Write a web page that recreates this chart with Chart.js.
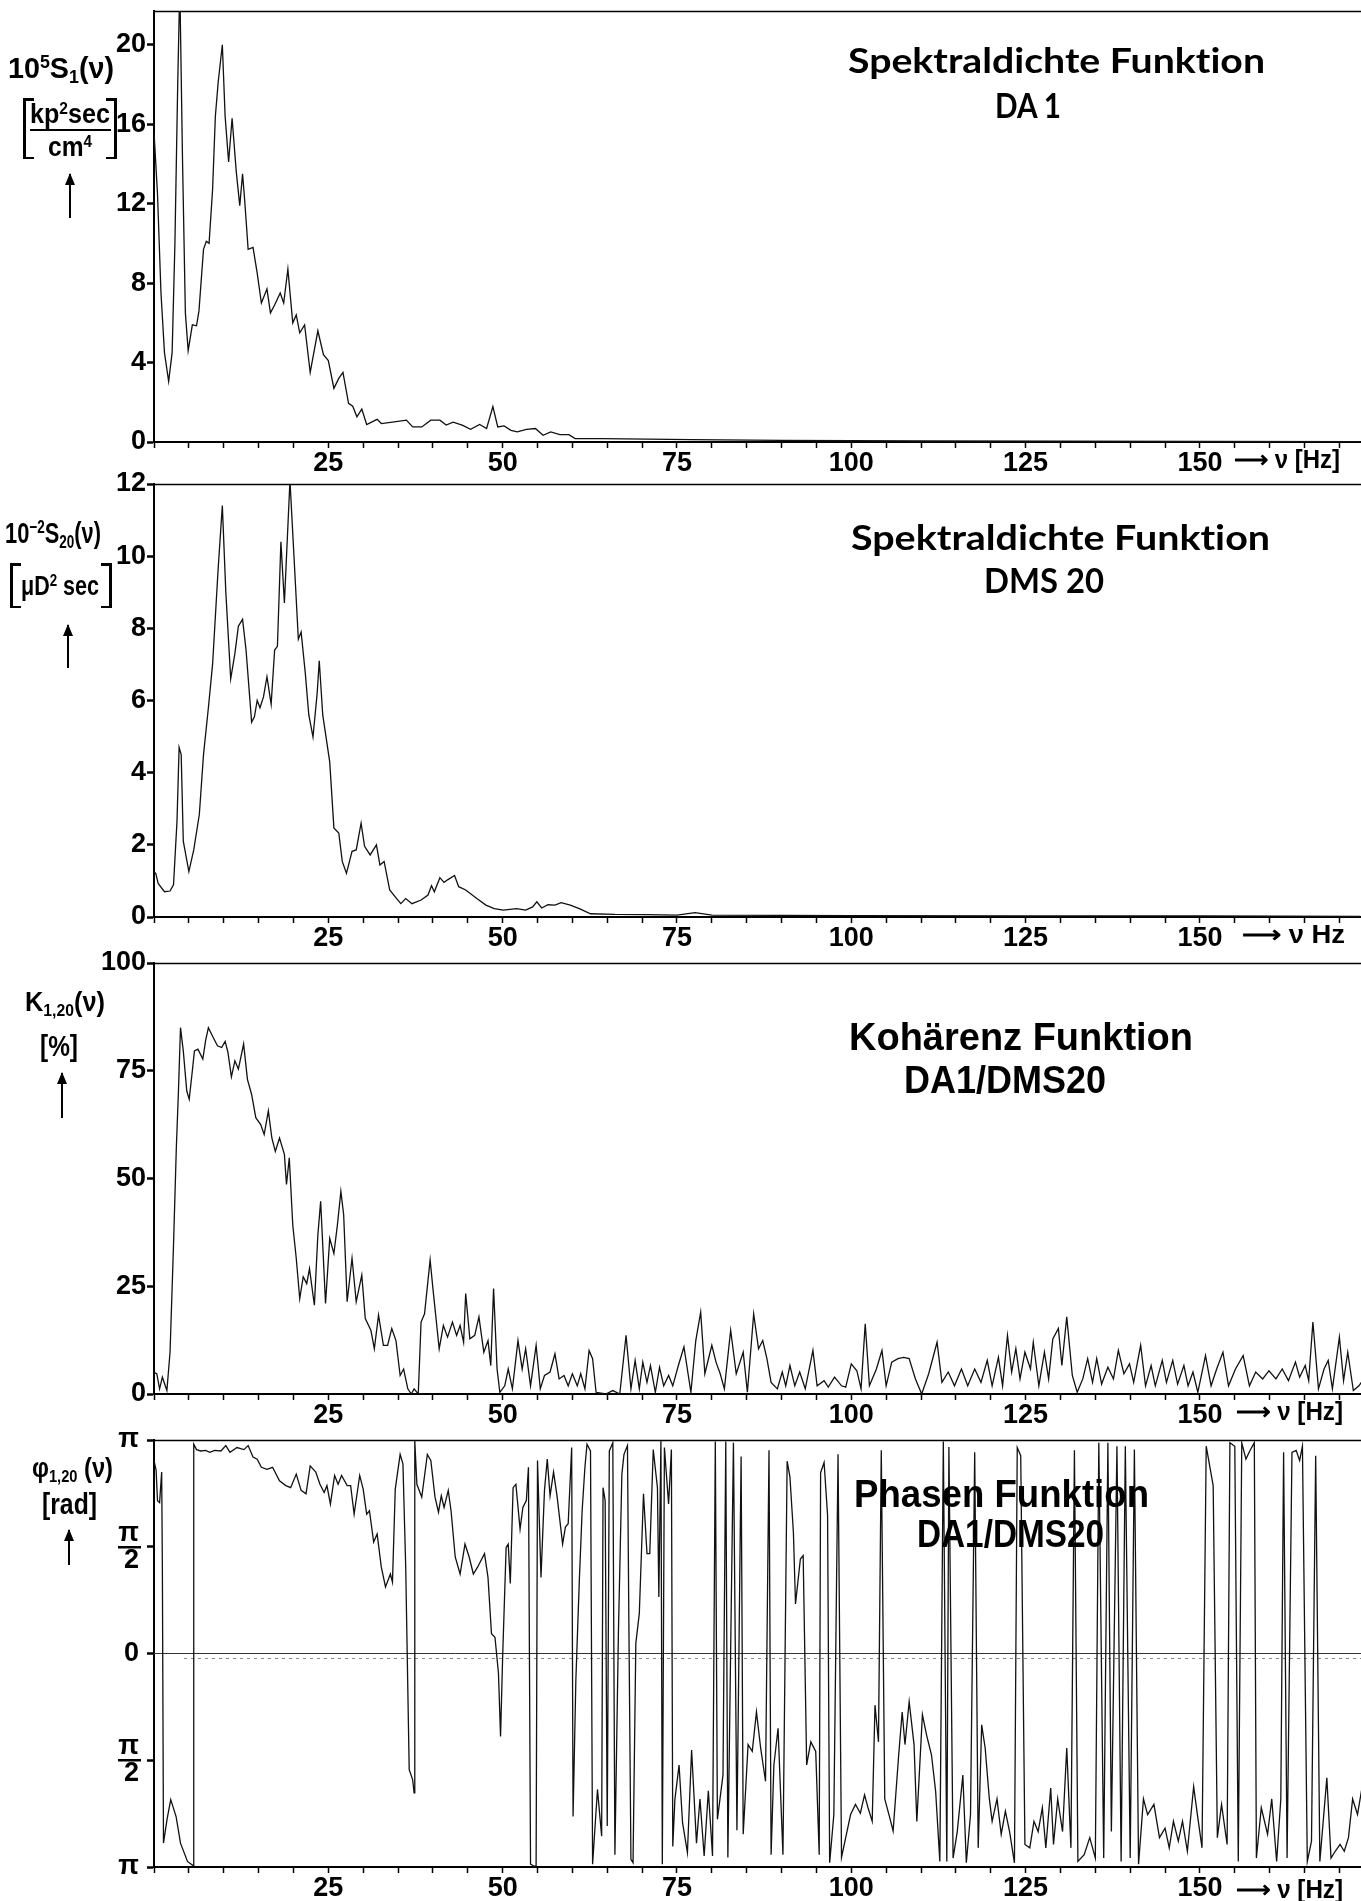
<!DOCTYPE html>
<html><head><meta charset="utf-8">
<script src="https://cdn.jsdelivr.net/npm/chart.js@4.4.0/dist/chart.umd.min.js"></script>
<style>
html,body{margin:0;padding:0;background:#fff;}
body{width:1361px;height:1901px;overflow:hidden;position:relative;}
canvas.pc{position:absolute;left:0;}
.t{position:absolute;white-space:nowrap;color:#000;transform-origin:0 0;line-height:1;font-variant-ligatures:none;font-feature-settings:"liga" 0,"clig" 0;}
.ti{font-family:Lato,"Open Sans",sans-serif;font-weight:700;font-size:35px;}
.tn{font-family:"Liberation Sans Narrow","Liberation Sans",sans-serif;font-weight:700;}
.t sup,.t sub{font-size:0.62em;position:relative;vertical-align:baseline;}
.t sup{top:-0.55em;}
.t sub{top:0.3em;}
.arr{position:absolute;width:2px;background:#000;}
.arr::before{content:'';position:absolute;left:-4px;top:-1px;width:0;height:0;border-left:5px solid transparent;border-right:5px solid transparent;border-bottom:12px solid #000;}
.brk{position:absolute;border-left:3px solid #000;border-right:3px solid #000;box-sizing:border-box;}
.brk::before,.brk::after{content:'';position:absolute;left:0;right:0;height:2.5px;background:linear-gradient(to right,#000 0,#000 8px,transparent 8px,transparent calc(100% - 8px),#000 calc(100% - 8px));}
.brk::before{top:0}.brk::after{bottom:0}
.bar{position:absolute;height:2px;background:#000;}
</style></head><body>
<canvas id="c1" class="pc"></canvas>
<canvas id="c2" class="pc"></canvas>
<canvas id="c3" class="pc"></canvas>
<canvas id="c4" class="pc"></canvas>

<!-- titles -->
<div class="t ti" data-w="417" style="left:848px;top:42px">Spektraldichte Funktion</div>
<div class="t ti" data-w="66" style="left:995px;top:87px">DA 1</div>
<div class="t ti" data-w="419" style="left:851px;top:519px">Spektraldichte Funktion</div>
<div class="t ti" data-w="120" style="left:984px;top:562px">DMS 20</div>
<div class="t tn" data-w="344" style="left:849px;top:1017px;font-size:39px">Kohärenz Funktion</div>
<div class="t tn" data-w="202" style="left:904px;top:1060px;font-size:39px">DA1/DMS20</div>
<div class="t tn" data-w="295" style="left:854px;top:1474px;font-size:39px">Phasen Funktion</div>
<div class="t tn" data-w="187" style="left:917px;top:1514px;font-size:39px">DA1/DMS20</div>

<!-- y-axis labels panel 1 -->
<div class="t tn" data-w="106" style="left:8px;top:54px;font-size:29px">10<sup>5</sup>S<sub>1</sub>(ν)</div>
<div class="brk" style="left:23px;top:98px;width:94px;height:61px"></div>
<div class="t tn" data-w="80" style="left:30px;top:101px;font-size:27px">kp<sup>2</sup>sec</div>
<div class="bar" style="left:30px;top:129px;width:81px"></div>
<div class="t tn" data-w="44" style="left:48px;top:134px;font-size:27px">cm<sup>4</sup></div>
<div class="arr" style="left:69px;top:174px;height:44px"></div>

<!-- panel 2 -->
<div class="t tn" data-w="96" style="left:5px;top:519px;font-size:29px">10<sup>−2</sup>S<sub>20</sub>(ν)</div>
<div class="brk" style="left:10px;top:563px;width:102px;height:45px"></div>
<div class="t tn" data-w="78" style="left:21px;top:573px;font-size:27px">μD<sup>2</sup> sec</div>
<div class="arr" style="left:67px;top:625px;height:43px"></div>

<!-- panel 3 -->
<div class="t tn" data-w="80" style="left:25px;top:988px;font-size:28px">K<sub>1,20</sub>(ν)</div>
<div class="t tn" data-w="38" style="left:40px;top:1031px;font-size:30px">[%]</div>
<div class="arr" style="left:61px;top:1073px;height:45px"></div>

<!-- panel 4 -->
<div class="t tn" data-w="81" style="left:32px;top:1454px;font-size:28px">φ<sub>1,20</sub> (ν)</div>
<div class="t tn" data-w="55" style="left:42px;top:1490px;font-size:29px">[rad]</div>
<div class="arr" style="left:68px;top:1530px;height:35px"></div>

<!-- x unit labels -->
<div class="t tn" data-w="106" style="left:1234px;top:446px;font-size:26px">⟶ ν [Hz]</div>
<div class="t tn" data-w="103" style="left:1242px;top:921px;font-size:26px">⟶ ν Hz</div>
<div class="t tn" data-w="107" style="left:1236px;top:1398px;font-size:26px">⟶ ν [Hz]</div>
<div class="t tn" data-w="107" style="left:1236px;top:1876px;font-size:26px">⟶ ν [Hz]</div>

<script>
// ---------------- data ----------------
const XMAX = 173.1;
const xLabelVals = [25, 50, 75, 100, 125, 150];
const xTickStep = 5;

const yTicks1 = [0, 4, 8, 12, 16, 20];
const yTicks2 = [0, 2, 4, 6, 8, 10, 12];
const yTicks3 = [0, 25, 50, 75, 100];
const yTicks4 = [-Math.PI, -Math.PI / 2, 0, Math.PI / 2, Math.PI];
const yTickLabels4 = [['π'], ['π', '2'], ['0'], ['π', '2'], ['π']];

// Spektraldichte DA1 (10^5 S1)
const hz1 = [0,0.5,1.0,1.5,2.1,2.6,3.0,3.4,3.7,4.1,4.5,4.9,5.5,6.1,6.45,7.1,7.5,7.9,8.4,8.8,9.2,9.8,10.2,10.7,11.2,11.8,12.3,12.7,13.0,13.5,14.2,14.8,15.4,16.2,16.7,17.3,18.1,18.6,19.2,19.9,20.4,20.9,21.6,22.4,23.5,24.3,25.0,25.8,26.5,27.1,27.9,28.5,29.1,29.8,30.5,32.0,32.6,34.2,36.2,37.1,38.4,39.7,41.0,41.9,42.9,44.2,45.4,46.7,47.7,48.6,49.3,50.2,51.2,52.1,53.4,54.7,55.8,56.9,58.2,59.5,60.4,64.3,70.7,77,90,110,130,150,173];
const s1  = [15.6,12.5,7.5,4.5,3.05,4.5,10,18,23,14,6.5,4.6,5.9,5.85,6.6,9.7,10.1,10.0,12.7,16.4,18.1,20.0,16.4,14.1,16.3,13.6,11.9,13.5,12.2,9.7,9.8,8.5,7.0,7.7,6.5,6.9,7.5,7.0,8.7,6.0,6.4,5.5,5.9,3.5,5.6,4.4,4.1,2.7,3.2,3.5,1.95,1.8,1.27,1.66,0.88,1.14,0.93,1.0,1.1,0.76,0.76,1.1,1.1,0.85,1.0,0.85,0.64,0.88,0.68,1.78,0.76,0.81,0.59,0.51,0.64,0.68,0.34,0.51,0.37,0.37,0.17,0.17,0.14,0.12,0.08,0.05,0.04,0.03,0.02];

// Spektraldichte DMS20 (10^-2 S20)
const hz2 = [0,0.25,0.6,1.5,2.3,2.8,3.3,3.6,3.9,4.2,5.0,5.7,6.5,7.1,7.8,8.4,9.2,9.8,10.3,11.0,11.6,12.1,12.7,13.2,14.0,14.4,14.8,15.2,15.7,16.2,16.8,17.3,17.7,18.2,18.7,19.1,19.5,20.1,20.7,21.1,21.7,22.2,22.8,23.4,23.7,24.2,25.2,25.8,26.5,27.0,27.6,28.4,29.0,29.7,30.2,31.0,31.9,32.4,33.0,33.8,34.8,35.4,36.1,37.0,38.3,39.3,39.8,40.2,41.0,41.6,42.1,43.1,43.7,44.7,46.3,47.6,48.8,50.1,52.0,53.3,54.3,54.9,55.6,56.5,57.5,58.4,59.7,61.0,62.6,66.1,70.6,75,77.6,80,100,125,150,173];
const s20 = [1.25,1.21,0.93,0.70,0.72,0.89,2.66,4.7,4.5,2.1,1.26,1.86,2.84,4.5,5.8,7.0,9.65,11.4,9.0,6.6,7.3,8.06,8.25,7.4,5.4,5.55,6.0,5.8,6.1,6.66,5.9,7.4,7.5,10.4,8.7,10.4,12.1,9.9,7.7,7.9,6.75,5.6,4.99,6.2,7.1,5.6,4.3,2.47,2.33,1.54,1.21,1.82,1.86,2.6,1.96,1.72,2.0,1.44,1.54,0.75,0.51,0.37,0.51,0.37,0.47,0.61,0.87,0.7,1.09,0.96,1.03,1.15,0.84,0.75,0.51,0.33,0.23,0.19,0.23,0.19,0.28,0.42,0.25,0.34,0.33,0.4,0.33,0.23,0.09,0.07,0.065,0.05,0.12,0.05,0.04,0.03,0.03,0.02];

// Kohärenz DA1/DMS20 (%)
const hz3 = [0,0.4,0.8,1.2,1.85,2.3,2.8,3.2,3.5,3.8,4.2,4.7,5.05,5.5,5.8,6.3,7.0,7.4,7.8,8.4,9.1,9.7,10.2,10.6,11.1,11.6,12.1,12.4,12.85,13.4,14.0,14.6,15.3,15.8,16.4,16.9,17.4,18.0,18.7,19.0,19.4,19.9,20.4,20.9,21.4,21.9,22.3,23.0,23.5,23.9,24.6,25.2,25.8,26.3,26.8,27.2,27.7,28.4,29.0,29.8,30.3,31.1,31.6,32.2,32.9,33.5,34.1,34.7,35.3,35.8,36.4,36.9,37.3,37.9,38.3,38.8,39.6,40.0,40.9,41.5,42.1,42.8,43.4,43.9,44.4,44.7,45.3,46.0,46.6,47.3,47.9,48.3,48.7,49.2,49.6,50.3,50.8,51.4,52.2,52.8,53.3,54.0,54.8,55.4,56.0,56.8,57.5,58.1,58.8,59.4,60.0,60.7,61.2,61.8,62.4,62.9,63.4,64.8,65.8,66.8,67.7,68.4,69.0,69.6,70.1,70.7,71.2,71.9,72.5,73.1,73.8,74.4,75.2,76.0,77.0,77.7,78.4,79.0,80.0,80.6,81.2,81.8,82.7,83.5,84.5,85.1,86.0,86.7,87.3,87.9,88.5,89.4,90.1,90.6,91.2,91.9,92.6,93.4,94.5,95.1,96.1,96.7,97.6,98.6,99.2,100,100.8,101.4,102.0,102.6,103.6,104.4,105.0,105.8,106.7,107.5,108.3,109.2,110.1,111.1,112.3,113.0,113.9,114.8,115.8,116.7,117.7,118.6,119.5,120.2,121.1,121.7,122.4,123.0,123.6,124.2,124.9,125.7,126.1,126.9,127.7,128.3,128.9,129.7,130.2,130.9,131.7,132.4,133.2,133.9,134.6,135.2,135.9,136.8,137.6,138.3,139.1,139.9,140.5,141.5,142.2,143.0,143.6,144.6,145.2,146.1,146.8,147.7,148.3,149.0,149.7,150.8,151.6,152.4,153.3,154.1,155.1,156.2,157.1,158.0,159.0,159.9,160.9,161.8,162.7,163.7,164.3,165.1,165.6,166.2,167.0,167.8,168.4,169.0,170.0,170.6,171.2,172.0,172.8,173.3];
const k120 = [5,4.7,1.2,3.9,0.8,9.7,34.6,57,70,85,79.6,70.3,68.4,75,79.6,80,77.7,82,85,83,80.8,80.4,81.8,79.3,73.6,77.3,75.4,77.7,81.2,73,69.5,64.1,62.5,60.2,65.7,59.4,56.3,59.4,55.6,48.6,54.8,39.2,31.5,22.1,27.2,25.6,29.1,20.6,36.9,44.7,21,36.1,32.6,39.2,47,41.6,21.4,31.5,21.4,27.6,17.5,14.8,10.5,18.3,11.3,11.3,15.2,12.4,4.3,5.8,1.2,0,1.2,0,16.7,18.6,31.1,24.5,10.5,15.9,13.2,16.7,13.6,15.9,12,23.3,12.8,13.6,17.9,9.7,12.4,6.6,24.5,5.8,0.4,1.9,5.8,1.2,12.4,5.8,10.5,1.9,11.3,1.2,4.3,5.1,9.3,3.5,4.3,1.9,4.7,1.9,4.7,1.2,10.1,8.2,0.4,0,0.8,0,13.6,1.2,7.8,1.2,7.4,2.7,6.6,0.4,6.2,1.9,4.3,1.9,6.6,10.9,0.4,12.4,19,4.7,11.3,7.4,4.7,1.2,14.8,4.7,9.7,0.4,18.6,10.5,12.4,8.2,2.7,1.2,5.1,1.9,6.6,1.9,5.1,1.2,10.1,1.9,3.1,1.6,3.9,1.9,1.6,7.0,5.4,1.2,16.3,1.9,5.8,10.1,1.9,7.4,8.2,8.5,8.2,3.5,0,4.7,12.0,2.7,5.1,1.9,5.8,1.9,5.8,2.7,7.8,1.9,8.5,1.9,13.6,5.1,10.5,3.5,9.7,5.8,12.0,1.9,9.7,3.5,12.8,15.2,6.6,17.9,4.3,0.4,3.5,8.2,2.7,8.2,2.3,6.2,3.5,10.1,4.7,7.0,2.7,11.3,1.9,6.6,1.9,7.8,2.7,7.8,2.3,6.6,1.9,5.1,0.4,8.9,1.9,5.8,9.7,1.9,5.8,8.9,1.9,5.1,3.5,5.4,3.5,5.8,3.1,7.4,3.9,6.6,3.1,16.7,1.2,5.8,7.8,1.2,13.2,3.1,9.7,0.8,1.9,3];

// Phasen DA1/DMS20 (rad)
const hz4 = [0,0.3,0.5,0.8,1.1,1.2,1.36,1.87,2.4,3.17,3.8,4.8,5.6,5.7,6.1,6.7,7.4,8.0,8.7,9.6,10.3,10.9,11.9,12.9,13.5,14.2,14.8,15.4,16.2,17.0,18.0,18.9,19.6,20.4,21.1,21.8,22.4,23.2,23.8,24.4,24.8,25.3,25.9,26.4,26.9,27.7,28.2,28.7,29.5,30.0,30.5,30.9,31.5,32.0,32.6,33.2,33.9,34.2,34.6,35.3,35.7,36.1,36.6,37.1,37.3,37.4,37.7,38.4,39.2,39.7,40.3,40.8,41.2,41.6,42.2,42.6,43.2,43.9,44.6,45.2,45.8,46.4,47.4,47.9,48.4,48.9,49.4,49.7,50.0,50.5,50.8,51.1,51.5,51.9,52.5,52.9,53.4,53.7,54.0,54.5,54.8,55.0,55.5,56.0,56.4,56.8,57.3,57.8,58.6,59.0,59.4,59.9,60.1,60.5,61.0,61.4,61.8,62.1,62.6,62.9,63.6,64.2,64.4,64.7,65.0,65.3,65.8,66.1,66.6,67.1,67.4,67.9,68.1,68.4,68.7,69.1,69.6,70.2,70.7,71.1,71.6,72.2,72.4,72.7,72.9,73.2,73.8,74.2,74.4,74.7,75.3,75.8,76.5,77.1,77.8,78.3,78.9,79.5,80.1,80.5,80.8,81.6,82.0,82.3,83.1,83.6,84.2,84.5,85.2,85.8,86.4,87.0,87.7,88.2,88.5,88.9,89.5,90.2,90.8,91.2,91.7,92.0,92.7,93.1,93.6,94.2,94.9,95.4,95.6,96.1,96.6,96.9,97.5,98.1,98.6,99.2,99.9,100.6,101.3,101.9,102.4,103.0,103.4,103.9,104.3,104.8,105.4,106.0,106.8,107.3,107.7,108.3,109.0,109.4,110.2,110.8,111.5,112.1,112.7,113.2,113.7,114.0,114.6,115.2,116.0,116.5,117.1,117.7,118.2,118.7,119.2,119.8,120.2,120.9,121.5,122.1,122.7,123.4,123.8,124.3,124.9,125.6,126.2,126.8,127.4,127.9,128.6,129.0,129.6,130.3,130.9,131.5,132.0,132.5,133.4,134.2,135.0,135.5,136.2,136.8,137.3,138.1,138.7,139.3,140.0,140.6,141.2,141.9,142.5,143.4,144.2,145.0,145.6,146.2,146.9,147.5,148.2,149.1,149.7,150.3,150.9,151.4,151.9,152.5,153.1,153.9,154.3,155.0,155.5,156.0,156.6,157.2,157.8,158.1,158.8,159.7,160.3,161.0,161.6,162.0,162.5,163.2,163.8,164.3,164.7,165.4,166.0,166.6,167.2,168.2,168.8,169.4,170.1,170.7,171.3,171.9,172.6,173.2];
const phi120 = [2.84,2.7,2.25,2.22,2.67,1.27,-2.79,-2.44,-2.15,-2.40,-2.79,-3.06,-3.12,3.08,3.0,2.98,2.99,2.96,2.99,2.98,3.06,2.96,3.03,3.0,3.06,2.89,2.86,2.74,2.71,2.74,2.54,2.47,2.44,2.64,2.40,2.35,2.76,2.67,2.49,2.37,2.47,2.2,2.62,2.49,2.62,2.47,2.47,2.05,2.62,2.42,2.05,2.10,1.64,1.76,1.27,0.98,1.17,1.05,2.42,2.93,2.79,1.27,-1.71,-1.86,-2.05,3.13,2.49,2.30,2.93,2.84,2.30,2.08,2.32,2.15,2.40,2.10,1.42,1.17,1.61,1.42,1.17,1.27,1.47,1.12,0.29,0.24,-0.29,-1.22,-0.05,1.56,1.61,1.03,2.44,2.49,1.83,2.15,2.25,2.74,-3.1,-3.13,-3.13,2.84,1.12,2.40,2.86,2.32,2.67,2.32,1.61,1.86,1.91,3.03,-2.4,-0.39,1.08,2.10,2.74,3.08,2.98,-3.1,-2.0,-2.69,2.44,2.25,-2.54,2.98,3.1,-2.96,0.29,2.64,2.93,3.06,0.49,-3.03,-3.08,0.15,0.59,2.35,1.47,1.47,3.0,2.44,0.83,3.13,-3.1,3.03,2.2,3.0,-2.84,-2.15,-1.64,-2.49,-2.93,-1.42,-2.79,-2.14,-2.98,-2.02,-2.98,3.12,-2.44,-1.79,3.12,-3.0,3.1,-2.6,2.9,-2.66,-1.34,-1.44,-0.86,-1.39,-1.88,2.99,-2.96,-1.64,-1.1,-2.96,2.83,2.6,1.78,0.73,1.39,1.44,-1.64,-1.3,-1.44,-2.96,2.66,2.81,2.03,-3.08,-2.37,2.93,-3.0,-2.71,-2.37,-2.22,-2.35,-2.08,-2.27,-2.47,-0.76,-1.3,2.99,-2.14,-2.37,-2.61,-1.49,-0.86,-1.34,-0.71,-1.34,-2.47,-0.9,-1.2,-1.49,-2.03,-3.06,3.12,-3.06,3.04,-3.01,-2.62,-1.79,-3.08,-2.37,2.96,-2.86,-1.05,-1.39,-2.14,-2.47,-2.14,-2.66,-2.32,-2.62,-3.08,3.03,2.91,-2.81,-2.86,-2.47,-2.62,-2.27,-2.86,-1.98,-2.81,-2.14,-2.62,-1.39,-2.86,2.99,-3.06,-2.96,-2.71,-3.01,3.1,-3.01,3.1,-2.62,3.05,-3.06,3.05,-3.01,3.0,-3.1,-2.14,-2.37,-2.22,-2.71,-2.57,-2.86,-2.47,-2.76,-2.47,-2.91,-1.96,-2.42,-2.86,3.05,2.76,2.47,-2.71,-2.22,-2.81,3.1,3.05,-3.06,3.1,2.86,2.99,3.1,-3.01,-2.27,-2.66,-2.14,-3.06,-2.14,2.96,-3.01,2.96,2.99,2.84,3.05,-3.06,-2.76,2.91,-3.06,-1.83,-3.01,-2.91,-2.81,-2.91,-2.71,-2.14,-2.37,-2.0];

// ---------------- layout ----------------
const W = 1361, LEFT = 154;
const FONT = {family: '"Liberation Sans Narrow","Liberation Sans",sans-serif', weight: 'bold', size: 27, lineHeight: 1};

const framePlugin = {
  id: 'frame',
  beforeDatasetsDraw(chart, args, opts) {
    const {ctx, chartArea: a} = chart;
    const y = chart.scales.y;
    ctx.save();
    ctx.strokeStyle = '#000'; ctx.lineWidth = 1.6;
    ctx.beginPath(); ctx.moveTo(a.left, a.top + 0.5); ctx.lineTo(a.right, a.top + 0.5); ctx.stroke();
    if (opts.zero) {
      const y0 = y.getPixelForValue(0);
      ctx.lineWidth = 1; ctx.strokeStyle = '#333';
      ctx.beginPath(); ctx.moveTo(a.left, y0); ctx.lineTo(a.right, y0); ctx.stroke();
      ctx.setLineDash([3, 4]); ctx.strokeStyle = '#888';
      ctx.beginPath(); ctx.moveTo(a.left + 30, y0 + 5); ctx.lineTo(a.right, y0 + 5); ctx.stroke();
    }
    ctx.restore();
  },
  afterDraw(chart, args, opts) {
    if (!opts.frac) return;
    const {ctx} = chart; const y = chart.scales.y;
    ctx.save(); ctx.fillStyle = '#000';
    opts.frac.forEach(v => { const py = y.getPixelForValue(v); ctx.fillRect(opts.fx0, Math.round(py) - 1, opts.fx1 - opts.fx0, 2.5); });
    ctx.restore();
  }
};

function makeChart(p, xs, ys, yTicks, yLabel, yPad, frameOpts) {
  const cv = document.getElementById(p.id);
  cv.width = W; cv.height = p.height;
  cv.style.top = p.top + 'px';
  const data = xs.map((x, i) => ({x: x, y: ys[i]}));
  return new Chart(cv, {
    type: 'line',
    data: {datasets: [{data: data, borderColor: '#111', borderWidth: 1.3, pointRadius: 0, tension: 0, fill: false}]},
    options: {
      responsive: false, animation: false, events: [],
      layout: {padding: {top: p.areaTop - p.top, left: 0, right: 0, bottom: 0}},
      plugins: {legend: {display: false}, tooltip: {enabled: false}, frame: frameOpts || {}},
      scales: {
        x: {
          type: 'linear', min: 0, max: XMAX,
          afterBuildTicks: ax => { const t = []; for (let v = 0; v <= 170; v += xTickStep) t.push({value: v}); ax.ticks = t; },
          afterFit: ax => { ax.height = p.height - (p.areaBottom - p.top); ax.paddingLeft = 0; ax.paddingRight = 0; },
          ticks: {autoSkip: false, maxRotation: 0, minRotation: 0, padding: 2, color: '#000', font: FONT,
                  callback: v => xLabelVals.includes(v) ? String(v) : ''},
          grid: {drawOnChartArea: false, tickLength: 6, color: '#000', tickWidth: 1.5},
          border: {display: true, color: '#000', width: 2}
        },
        y: {
          type: 'linear', min: p.ymin, max: p.ymax,
          afterBuildTicks: ax => { ax.ticks = yTicks.map(v => ({value: v})); },
          afterFit: ax => { ax.width = LEFT; ax.paddingTop = 0; ax.paddingBottom = 0; },
          ticks: {autoSkip: false, padding: yPad, color: '#000', font: FONT, callback: yLabel},
          grid: {drawOnChartArea: false, tickLength: 7, color: '#000', tickWidth: 2.5},
          border: {display: true, color: '#000', width: 2}
        }
      }
    },
    plugins: [framePlugin]
  });
}

const P1 = {id: 'c1', top: 0, height: 480, areaTop: 11, areaBottom: 442, ymin: 0, ymax: 21.7};
const P2 = {id: 'c2', top: 462, height: 488, areaTop: 484, areaBottom: 917, ymin: 0, ymax: 12};
const P3 = {id: 'c3', top: 942, height: 488, areaTop: 963, areaBottom: 1394, ymin: 0, ymax: 100};
const P4 = {id: 'c4', top: 1415, height: 486, areaTop: 1440, areaBottom: 1867, ymin: -Math.PI, ymax: Math.PI};

makeChart(P1, hz1, s1, yTicks1, v => String(v), 1);
makeChart(P2, hz2, s20, yTicks2, v => String(v), 1);
makeChart(P3, hz3, k120, yTicks3, v => String(v), 1);
makeChart(P4, hz4, phi120, yTicks4, (v, i) => yTickLabels4[i], 8,
  {zero: true, frac: [Math.PI / 2, -Math.PI / 2], fx0: 118, fx1: 141});

// fit text widths
document.querySelectorAll('[data-w]').forEach(el => {
  const w = +el.dataset.w; const cur = el.getBoundingClientRect().width;
  if (cur > 0) el.style.transform = 'scaleX(' + (w / cur).toFixed(4) + ')';
});
</script>
</body></html>
